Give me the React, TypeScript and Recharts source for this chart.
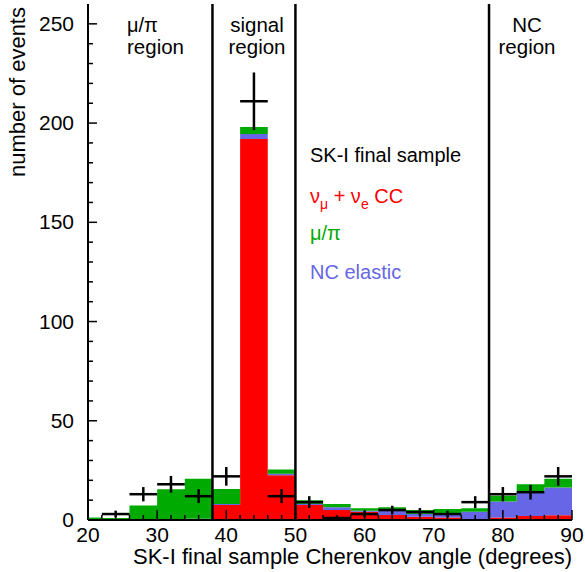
import {
  ComposedChart,
  Area,
  Scatter,
  ErrorBar,
  XAxis,
  YAxis,
  ReferenceLine,
} from "recharts";

// histogram bin edges (degrees); first bin is a half bin
const binEdges = [20, 22, 26, 30, 34, 38, 42, 46, 50, 54, 58, 62, 66, 70, 74, 78, 82, 86, 90];

// stacked MC components, one value per bin
const ccEvents = [0, 0, 0, 0, 0.3, 7.6, 192, 22.5, 7.6, 5, 4.2, 2.5, 1.7, 1.3, 0.5, 1.2, 2, 2.4];
const ncEvents = [0, 0.5, 0.5, 0.5, 0.3, 0.5, 2.5, 0.8, 0.5, 1.4, 0.5, 2.2, 1.3, 1.7, 3.7, 8.1, 12.4, 14];
const mupiEvents = [1.2, 0.5, 6.8, 15, 20.2, 7.5, 3.5, 2.1, 1.9, 1.7, 1.2, 1.7, 2, 2.6, 1.7, 2.9, 3.6, 4.4];

// data points
const dataAngle = [24, 28, 32, 36, 40, 44, 48, 52, 56, 60, 64, 68, 72, 76, 80, 84, 88];
const dataCounts = [3, 13, 18, 12, 22, 211, 12, 9, 1, 3, 5, 4, 3, 9, 13, 14, 22];
const dataErr = [1.7, 3.6, 4.2, 3.5, 4.7, 14.5, 3.5, 3, 1, 1.7, 2.2, 2, 1.7, 3, 3.6, 3.7, 4.7];
const halfBin = [2, 2, 2, 2, 2, 2, 2, 2, 2, 2, 2, 2, 2, 2, 2, 2, 2];

const regionLines = [38, 50, 78];

const xTicks = [20, 22, 24, 26, 28, 30, 32, 34, 36, 38, 40, 42, 44, 46, 48, 50, 52, 54, 56, 58, 60,
  62, 64, 66, 68, 70, 72, 74, 76, 78, 80, 82, 84, 86, 88, 90];
const xLabels = [20, 30, 40, 50, 60, 70, 80, 90];
const yTicks = [0, 10, 20, 30, 40, 50, 60, 70, 80, 90, 100, 110, 120, 130, 140, 150, 160, 170,
  180, 190, 200, 210, 220, 230, 240, 250];
const yLabels = [0, 50, 100, 150, 200, 250];

const font = '"Liberation Sans", Arial, Helvetica, sans-serif';
const RED = "#ff0000";
const GREEN = "#00aa00";
const BLUE = "#6666e6";

const histo = binEdges.map((x, i) => {
  const k = Math.min(i, ccEvents.length - 1);
  return { x, cc: ccEvents[k], nc: ncEvents[k], mupi: mupiEvents[k] };
});

const points = dataAngle.map((x, i) => ({
  x,
  y: dataCounts[i],
  ey: dataErr[i],
  ex: halfBin[i],
}));

function BottomTick(props: any) {
  const { x, y, payload } = props;
  const major = xLabels.includes(payload.value);
  return (
    <g>
      <line x1={x} x2={x} y1={y} y2={y - (major ? 10 : 5)} stroke="#000" strokeWidth={1.5} />
      {major && (
        <text x={x} y={y + 22} textAnchor="middle" fontSize={21} fontFamily={font} fill="#000">
          {payload.value}
        </text>
      )}
    </g>
  );
}

function TopTick(props: any) {
  const { x, y, payload } = props;
  const major = xLabels.includes(payload.value);
  return <line x1={x} x2={x} y1={y} y2={y + (major ? 6 : 5)} stroke="#000" strokeWidth={1.5} />;
}

function LeftTick(props: any) {
  const { x, y, payload } = props;
  const major = yLabels.includes(payload.value);
  return (
    <g>
      <line x1={x} x2={x + (major ? 9 : 5)} y1={y} y2={y} stroke="#000" strokeWidth={1.5} />
      {major && (
        <text x={x - 14} y={y + 7} textAnchor="end" fontSize={21} fontFamily={font} fill="#000">
          {payload.value}
        </text>
      )}
    </g>
  );
}

function RightTick(props: any) {
  const { x, y, payload } = props;
  const major = yLabels.includes(payload.value);
  return <line x1={x} x2={x - (major ? 9 : 5)} y1={y} y2={y} stroke="#000" strokeWidth={1.5} />;
}

export default function App() {
  return (
    <div style={{ position: "absolute", left: 0, top: 0, width: 585, height: 572, background: "#fff" }}>
      <ComposedChart
        width={585}
        height={572}
        data={histo}
        margin={{ top: 4, right: 13, bottom: 0, left: 0 }}
      >
        <XAxis
          dataKey="x"
          type="number"
          domain={[20, 90]}
          ticks={xTicks}
          interval={0}
          height={52}
          tickSize={0}
          tickMargin={0}
          tick={<BottomTick />}
          axisLine={{ stroke: "#000", strokeWidth: 2 }}
          allowDataOverflow
        />
        <XAxis
          xAxisId="top"
          orientation="top"
          type="number"
          domain={[20, 90]}
          ticks={xTicks}
          interval={0}
          height={0}
          tickSize={0}
          tickMargin={0}
          tick={<TopTick />}
          axisLine={{ stroke: "#000", strokeWidth: 2 }}
          allowDataOverflow
        />
        <YAxis
          type="number"
          domain={[0, 260]}
          ticks={yTicks}
          interval={0}
          width={88}
          tickSize={0}
          tickMargin={0}
          tick={<LeftTick />}
          axisLine={{ stroke: "#000", strokeWidth: 2 }}
          allowDataOverflow
        />
        <YAxis
          yAxisId="right"
          orientation="right"
          type="number"
          domain={[0, 260]}
          ticks={yTicks}
          interval={0}
          width={0}
          tickSize={0}
          tickMargin={0}
          tick={<RightTick />}
          axisLine={{ stroke: "#000", strokeWidth: 2 }}
          allowDataOverflow
        />
        <Area type="stepAfter" dataKey="cc" stackId="mc" fill={RED} fillOpacity={1} stroke="none" isAnimationActive={false} />
        <Area type="stepAfter" dataKey="nc" stackId="mc" fill={BLUE} fillOpacity={1} stroke="none" isAnimationActive={false} />
        <Area type="stepAfter" dataKey="mupi" stackId="mc" fill={GREEN} fillOpacity={1} stroke="none" isAnimationActive={false} />
        {regionLines.map((v) => (
          <ReferenceLine key={v} x={v} stroke="#000" strokeWidth={2.5} />
        ))}
        <Scatter data={points} dataKey="y" shape={() => <g />} isAnimationActive={false}>
          <ErrorBar dataKey="ey" direction="y" width={0} stroke="#000" strokeWidth={2.5} />
          <ErrorBar dataKey="ex" direction="x" width={0} stroke="#000" strokeWidth={2.5} />
        </Scatter>
      </ComposedChart>
      <svg
        width={585}
        height={572}
        style={{ position: "absolute", left: 0, top: 0, pointerEvents: "none" }}
        fontFamily={font}
      >
        <text x={0} y={0} transform="translate(25,177) rotate(-90)" fontSize={22} fill="#000">
          number of events
        </text>
        <text x={572} y={564} textAnchor="end" fontSize={22} fill="#000">
          SK-I final sample Cherenkov angle (degrees)
        </text>
        <text x={127} y={32} fontSize={20} fill="#000">μ/π</text>
        <text x={127} y={54} fontSize={20.5} fill="#000">region</text>
        <text x={257} y={32} textAnchor="middle" fontSize={20.5} fill="#000">signal</text>
        <text x={257} y={54} textAnchor="middle" fontSize={20.5} fill="#000">region</text>
        <text x={527} y={32} textAnchor="middle" fontSize={20.5} fill="#000">NC</text>
        <text x={527} y={54} textAnchor="middle" fontSize={20.5} fill="#000">region</text>
        <text x={310} y={162} fontSize={20} fill="#000">SK-I final sample</text>
        <text x={310} y={203} fontSize={20} fill={RED}>
          ν<tspan fontSize={14} dy={6}>μ</tspan>
          <tspan dy={-6}> + ν</tspan>
          <tspan fontSize={14} dy={6}>e</tspan>
          <tspan dy={-6}> CC</tspan>
        </text>
        <text x={310} y={240} fontSize={20} fill={GREEN}>μ/π</text>
        <text x={310} y={279} fontSize={20} fill={BLUE}>NC elastic</text>
      </svg>
    </div>
  );
}
